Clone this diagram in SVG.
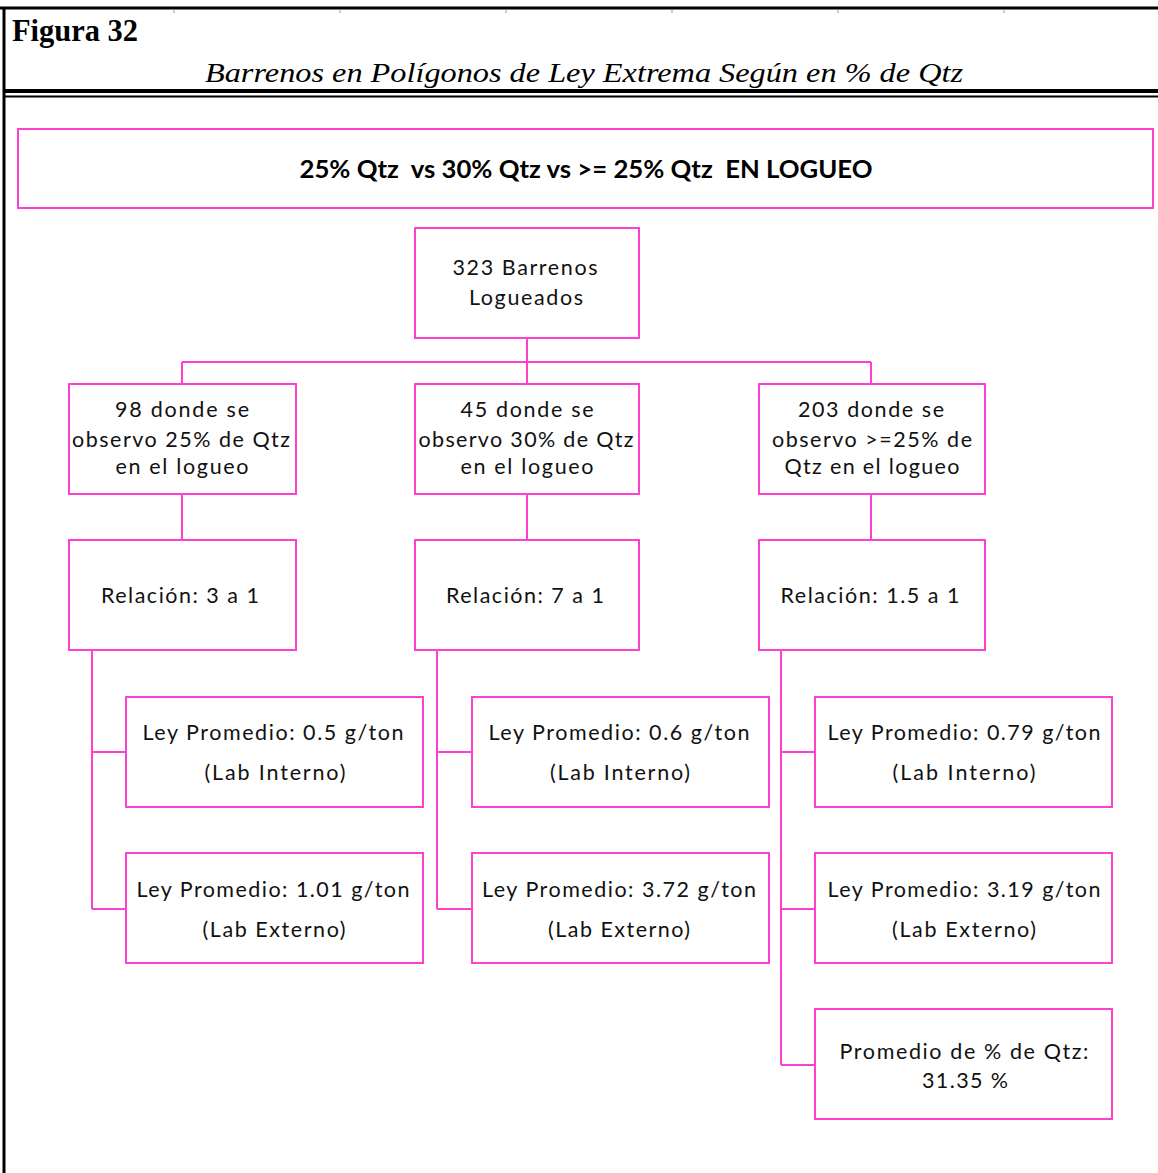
<svg xmlns="http://www.w3.org/2000/svg" width="1158" height="1173" viewBox="0 0 1158 1173">
  <style>
    .frame { stroke: #000; fill: none; }
    .box { fill: #fff; stroke: #ff3fd0; stroke-width: 2; }
    .link { fill: none; stroke: #ff3fd0; stroke-width: 2; }
    .t { font-family: Lato, "Open Sans", "Liberation Sans", sans-serif; font-size: 21.5px; fill: #111; text-anchor: middle; }
    .hdr { font-family: Lato, "Open Sans", "Liberation Sans", sans-serif; font-size: 25px; font-weight: bold; fill: #000; text-anchor: middle; white-space: pre; }
    .fig { font-family: "Liberation Serif", "Times New Roman", serif; font-size: 31px; font-weight: bold; fill: #000; }
    .sub { font-family: "Liberation Serif", "Times New Roman", serif; font-size: 28px; font-style: italic; fill: #000; text-anchor: middle; }
    .tick { stroke: #999; stroke-width: 1; }
  </style>

  <rect width="1158" height="1173" fill="#fff"/>

  <!-- page frame -->
  <g id="frame">
    <line class="frame" x1="0" y1="8" x2="1158" y2="8" stroke-width="3"/>
    <line class="frame" x1="4" y1="7" x2="4" y2="1173" stroke-width="3"/>
    <line class="frame" x1="4" y1="91" x2="1158" y2="91" stroke-width="4"/>
    <line class="frame" x1="4" y1="96.5" x2="1158" y2="96.5" stroke-width="2"/>
    <g class="tick">
      <line x1="174" y1="10" x2="174" y2="13"/>
      <line x1="340" y1="10" x2="340" y2="13"/>
      <line x1="506" y1="10" x2="506" y2="13"/>
      <line x1="672" y1="10" x2="672" y2="13"/>
      <line x1="838" y1="10" x2="838" y2="13"/>
      <line x1="1004" y1="10" x2="1004" y2="13"/>
    </g>
  </g>

  <g id="title">
    <text class="fig" x="12" y="41" textLength="126" lengthAdjust="spacingAndGlyphs">Figura 32</text>
    <text class="sub" x="584" y="82" textLength="758" lengthAdjust="spacingAndGlyphs">Barrenos en Polígonos de Ley Extrema Según en % de Qtz</text>
  </g>

  <!-- connectors -->
  <g id="connectors">
    <path class="link" d="M527,338 V362 M182,362 H871 M182,362 V384 M527,362 V384 M871,362 V384"/>
    <path class="link" d="M182,494 V540 M527,494 V540 M871,494 V540"/>
    <path class="link" d="M92,650 V909 M92,752 H126 M92,909 H126"/>
    <path class="link" d="M437,650 V909 M437,752 H472 M437,909 H472"/>
    <path class="link" d="M781,650 V1065 M781,752 H815 M781,909 H815 M781,1065 H815"/>
  </g>

  <g id="header">
    <rect class="box" x="18" y="129" width="1135" height="79"/>
    <text class="hdr" x="586" y="178" textLength="573" lengthAdjust="spacingAndGlyphs" xml:space="preserve">25% Qtz  vs 30% Qtz vs &gt;= 25% Qtz  EN LOGUEO</text>
  </g>

  <g id="root">
    <rect class="box" x="415" y="228" width="224" height="110"/>
    <text class="t" x="525" y="275" textLength="145" lengthAdjust="spacing">323 Barrenos</text>
    <text class="t" x="526" y="305" textLength="114" lengthAdjust="spacing">Logueados</text>
  </g>

  <g id="grupo-25">
    <rect class="box" x="69" y="384" width="227" height="110"/>
    <text class="t" x="182" y="417" textLength="134" lengthAdjust="spacing">98 donde se</text>
    <text class="t" x="181" y="447" textLength="218" lengthAdjust="spacing">observo 25% de Qtz</text>
    <text class="t" x="182" y="474" textLength="133" lengthAdjust="spacing">en el logueo</text>
  </g>

  <g id="grupo-30">
    <rect class="box" x="415" y="384" width="224" height="110"/>
    <text class="t" x="527" y="417" textLength="133" lengthAdjust="spacing">45 donde se</text>
    <text class="t" x="526" y="447" textLength="215" lengthAdjust="spacing">observo 30% de Qtz</text>
    <text class="t" x="527" y="474" textLength="133" lengthAdjust="spacing">en el logueo</text>
  </g>

  <g id="grupo-mayor-25">
    <rect class="box" x="759" y="384" width="226" height="110"/>
    <text class="t" x="871" y="417" textLength="146" lengthAdjust="spacing">203 donde se</text>
    <text class="t" x="872" y="447" textLength="200" lengthAdjust="spacing">observo &gt;=25% de</text>
    <text class="t" x="872" y="474" textLength="175" lengthAdjust="spacing">Qtz en el logueo</text>
  </g>

  <g id="relacion-25">
    <rect class="box" x="69" y="540" width="227" height="110"/>
    <text class="t" x="180" y="603" textLength="158" lengthAdjust="spacing">Relación: 3 a 1</text>
  </g>

  <g id="relacion-30">
    <rect class="box" x="415" y="540" width="224" height="110"/>
    <text class="t" x="525" y="603" textLength="158" lengthAdjust="spacing">Relación: 7 a 1</text>
  </g>

  <g id="relacion-mayor-25">
    <rect class="box" x="759" y="540" width="226" height="110"/>
    <text class="t" x="870" y="603" textLength="179" lengthAdjust="spacing">Relación: 1.5 a 1</text>
  </g>

  <g id="ley-interno-25">
    <rect class="box" x="126" y="697" width="297" height="110"/>
    <text class="t" x="273" y="740" textLength="261" lengthAdjust="spacing">Ley Promedio: 0.5 g/ton</text>
    <text class="t" x="275" y="780" textLength="141" lengthAdjust="spacing">(Lab Interno)</text>
  </g>

  <g id="ley-externo-25">
    <rect class="box" x="126" y="853" width="297" height="110"/>
    <text class="t" x="273" y="897" textLength="273" lengthAdjust="spacing">Ley Promedio: 1.01 g/ton</text>
    <text class="t" x="274" y="937" textLength="143" lengthAdjust="spacing">(Lab Externo)</text>
  </g>

  <g id="ley-interno-30">
    <rect class="box" x="472" y="697" width="297" height="110"/>
    <text class="t" x="619" y="740" textLength="261" lengthAdjust="spacing">Ley Promedio: 0.6 g/ton</text>
    <text class="t" x="620" y="780" textLength="140" lengthAdjust="spacing">(Lab Interno)</text>
  </g>

  <g id="ley-externo-30">
    <rect class="box" x="472" y="853" width="297" height="110"/>
    <text class="t" x="619" y="897" textLength="274" lengthAdjust="spacing">Ley Promedio: 3.72 g/ton</text>
    <text class="t" x="619" y="937" textLength="142" lengthAdjust="spacing">(Lab Externo)</text>
  </g>

  <g id="ley-interno-mayor-25">
    <rect class="box" x="815" y="697" width="297" height="110"/>
    <text class="t" x="964" y="740" textLength="273" lengthAdjust="spacing">Ley Promedio: 0.79 g/ton</text>
    <text class="t" x="964" y="780" textLength="143" lengthAdjust="spacing">(Lab Interno)</text>
  </g>

  <g id="ley-externo-mayor-25">
    <rect class="box" x="815" y="853" width="297" height="110"/>
    <text class="t" x="964" y="897" textLength="273" lengthAdjust="spacing">Ley Promedio: 3.19 g/ton</text>
    <text class="t" x="964" y="937" textLength="144" lengthAdjust="spacing">(Lab Externo)</text>
  </g>

  <g id="promedio-qtz">
    <rect class="box" x="815" y="1009" width="297" height="110"/>
    <text class="t" x="964" y="1059" textLength="249" lengthAdjust="spacing">Promedio de % de Qtz:</text>
    <text class="t" x="965" y="1088" textLength="86" lengthAdjust="spacing">31.35 %</text>
  </g>
</svg>
